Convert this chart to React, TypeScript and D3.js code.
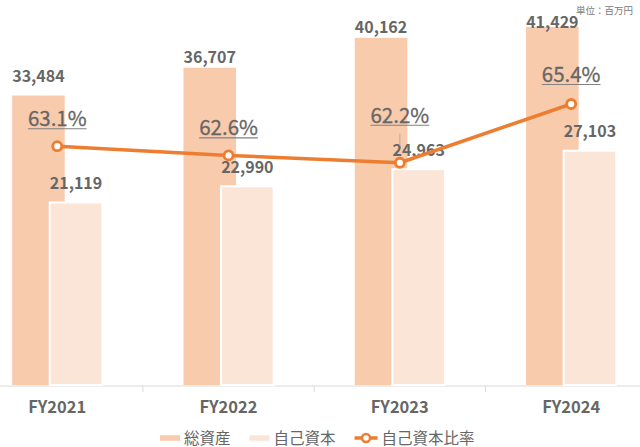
import { useEffect, useRef } from "react";
import * as d3 from "d3";

// values (unit: million yen)
const years = ["FY2021", "FY2022", "FY2023", "FY2024"];
const totalAssets = [33484, 36707, 40162, 41429];
const equity = [21119, 22990, 24963, 27103];
const equityRatio = [63.1, 62.6, 62.2, 65.4];

const seriesNames = ["総資産", "自己資本", "自己資本比率"];
const unitLabel = "単位：百万円";

// manual label nudges (px) as in the original
const totalLabelNudge = [-9.5, 0, 0, 5.5];
const ratioLabelNudge = [0, 0, -20, -2];

const colors = {
  total: "#F8CBAD",
  equity: "#FBE5D6",
  line: "#ED7D31",
  text: "#666666",
  axis: "#d9d9d9",
};

const CJK = "'Noto Sans CJK JP', 'Noto Sans', sans-serif";

export default function App() {
  const chartRef = useRef<SVGSVGElement>(null);

  useEffect(() => {
    if (!chartRef.current) return;
    const svg = d3.select(chartRef.current);
    svg.selectAll("*").remove();

    const width = 640;
    const height = 447;
    const baseline = 385;

    const x = d3.scaleBand<string>().domain(years).range([-28.4, 656.8]).padding(0);
    const y = d3.scaleLinear().domain([0, 45000]).range([baseline, -4]);
    const y2 = d3.scaleLinear().domain([50, 70]).range([386.6, 19.6]);

    const bw = x.bandwidth();
    const barW = bw * 0.307;
    const shift = barW * 0.715;
    const cx = (d: string) => (x(d) || 0) + bw / 2;
    const totalX = (d: string) => cx(d) - shift / 2 - barW / 2;
    const equityX = (d: string) => cx(d) + shift / 2 - barW / 2;

    svg.attr("viewBox", [0, 0, width, height]).attr("width", width).attr("height", height);

    // x axis line and ticks
    const axis = svg.append("g");
    axis.append("line")
      .attr("x1", 0).attr("x2", width)
      .attr("y1", baseline + 1).attr("y2", baseline + 1)
      .attr("stroke", colors.axis).attr("stroke-width", 1);
    axis.selectAll("line.tick")
      .data(years.slice(1))
      .join("line")
      .attr("class", "tick")
      .attr("x1", d => x(d) || 0).attr("x2", d => x(d) || 0)
      .attr("y1", baseline + 1).attr("y2", baseline + 7)
      .attr("stroke", colors.axis);
    axis.selectAll("text")
      .data(years)
      .join("text")
      .attr("x", d => cx(d))
      .attr("y", 412.5)
      .attr("text-anchor", "middle")
      .attr("font-family", CJK)
      .attr("font-weight", "bold")
      .attr("font-size", 16.5)
      .attr("fill", colors.text)
      .text(d => d);

    // bars
    svg.append("g")
      .selectAll("rect")
      .data(years)
      .join("rect")
      .attr("x", d => totalX(d))
      .attr("y", (_, i) => y(totalAssets[i]))
      .attr("width", barW)
      .attr("height", (_, i) => y(0) - y(totalAssets[i]))
      .attr("fill", colors.total);

    svg.append("g")
      .selectAll("rect")
      .data(years)
      .join("rect")
      .attr("x", d => equityX(d))
      .attr("y", (_, i) => y(equity[i]))
      .attr("width", barW)
      .attr("height", (_, i) => y(0) - y(equity[i]))
      .attr("fill", colors.equity)
      .attr("stroke", "#fff")
      .attr("stroke-width", 2);

    const fmt = d3.format(",");

    // bar labels
    svg.append("g")
      .selectAll("text")
      .data(years)
      .join("text")
      .attr("x", d => totalX(d) + barW / 2)
      .attr("y", (_, i) => y(totalAssets[i]) - 4.5 + totalLabelNudge[i])
      .attr("text-anchor", "middle")
      .attr("font-family", CJK)
      .attr("font-weight", "bold")
      .attr("font-size", 16)
      .attr("fill", colors.text)
      .text((_, i) => fmt(totalAssets[i]));

    svg.append("g")
      .selectAll("text")
      .data(years)
      .join("text")
      .attr("x", d => equityX(d) + barW / 2)
      .attr("y", (_, i) => y(equity[i]) - 13.5)
      .attr("text-anchor", "middle")
      .attr("font-family", CJK)
      .attr("font-weight", "bold")
      .attr("font-size", 16)
      .attr("fill", colors.text)
      .text((_, i) => fmt(equity[i]));

    // ratio labels with underline
    const ratioLabelY = (i: number) => y2(equityRatio[i]) - 20 + ratioLabelNudge[i];
    const ratioLabels = svg.append("g");
    years.forEach((d, i) => {
      const t = ratioLabels.append("text")
        .attr("x", cx(d))
        .attr("y", ratioLabelY(i))
        .attr("text-anchor", "middle")
        .attr("font-family", CJK)
        .attr("font-size", 20.5)
        .attr("fill", colors.text)
        .attr("stroke", colors.text)
        .attr("stroke-width", 0.3)
        .text(`${equityRatio[i].toFixed(1)}%`);
      const len = (t.node() as SVGTextElement).getComputedTextLength();
      ratioLabels.append("line")
        .attr("x1", cx(d) - len / 2).attr("x2", cx(d) + len / 2)
        .attr("y1", ratioLabelY(i) + 2.5).attr("y2", ratioLabelY(i) + 2.5)
        .attr("stroke", "#808080")
        .attr("stroke-width", 1.1);
    });

    // leader line for the moved label
    svg.append("g")
      .selectAll("line")
      .data(years.filter((_, i) => ratioLabelNudge[i] < -10))
      .join("line")
      .attr("x1", d => cx(d)).attr("x2", d => cx(d))
      .attr("y1", d => ratioLabelY(years.indexOf(d)) + 11)
      .attr("y2", d => y2(equityRatio[years.indexOf(d)]) - 17)
      .attr("stroke", "#a6a6a6")
      .attr("stroke-width", 0.8);

    // ratio line
    const line = d3.line<string>()
      .x(d => cx(d))
      .y((_, i) => y2(equityRatio[i]));
    svg.append("path")
      .datum(years)
      .attr("d", line)
      .attr("fill", "none")
      .attr("stroke", colors.line)
      .attr("stroke-width", 3.5)
      .attr("stroke-linejoin", "round");

    svg.append("g")
      .selectAll("circle")
      .data(years)
      .join("circle")
      .attr("cx", d => cx(d))
      .attr("cy", (_, i) => y2(equityRatio[i]))
      .attr("r", 4.5)
      .attr("fill", "#fff")
      .attr("stroke", colors.line)
      .attr("stroke-width", 2.8);

    // unit label
    svg.append("text")
      .attr("x", 633)
      .attr("y", 13.5)
      .attr("text-anchor", "end")
      .attr("font-family", CJK)
      .attr("font-size", 9.5)
      .attr("fill", "#7a7a7a")
      .text(unitLabel);

    // legend
    const legend = svg.append("g").attr("transform", "translate(160,438)");
    let lx = 0;
    seriesNames.forEach((name, i) => {
      const g = legend.append("g").attr("transform", `translate(${lx},0)`);
      let sw = 20;
      if (i < 2) {
        g.append("rect")
          .attr("x", 0).attr("y", -2.75)
          .attr("width", 20).attr("height", 5.5)
          .attr("fill", i === 0 ? colors.total : colors.equity);
      } else {
        sw = 23;
        g.append("line")
          .attr("x1", 0).attr("x2", sw).attr("y1", 0).attr("y2", 0)
          .attr("stroke", colors.line).attr("stroke-width", 3.5);
        g.append("circle")
          .attr("cx", sw / 2).attr("cy", 0).attr("r", 4)
          .attr("fill", "#fff").attr("stroke", colors.line).attr("stroke-width", 2.5);
      }
      const t = g.append("text")
        .attr("x", sw + 4)
        .attr("y", 5.5)
        .attr("font-family", CJK)
        .attr("font-size", 15.5)
        .attr("fill", colors.text)
        .text(name);
      const len = (t.node() as SVGTextElement).getComputedTextLength();
      lx += sw + 4 + len + 19;
    });
  }, []);

  return (
    <svg
      ref={chartRef}
      style={{ position: "absolute", left: 0, top: 0, display: "block" }}
    ></svg>
  );
}
